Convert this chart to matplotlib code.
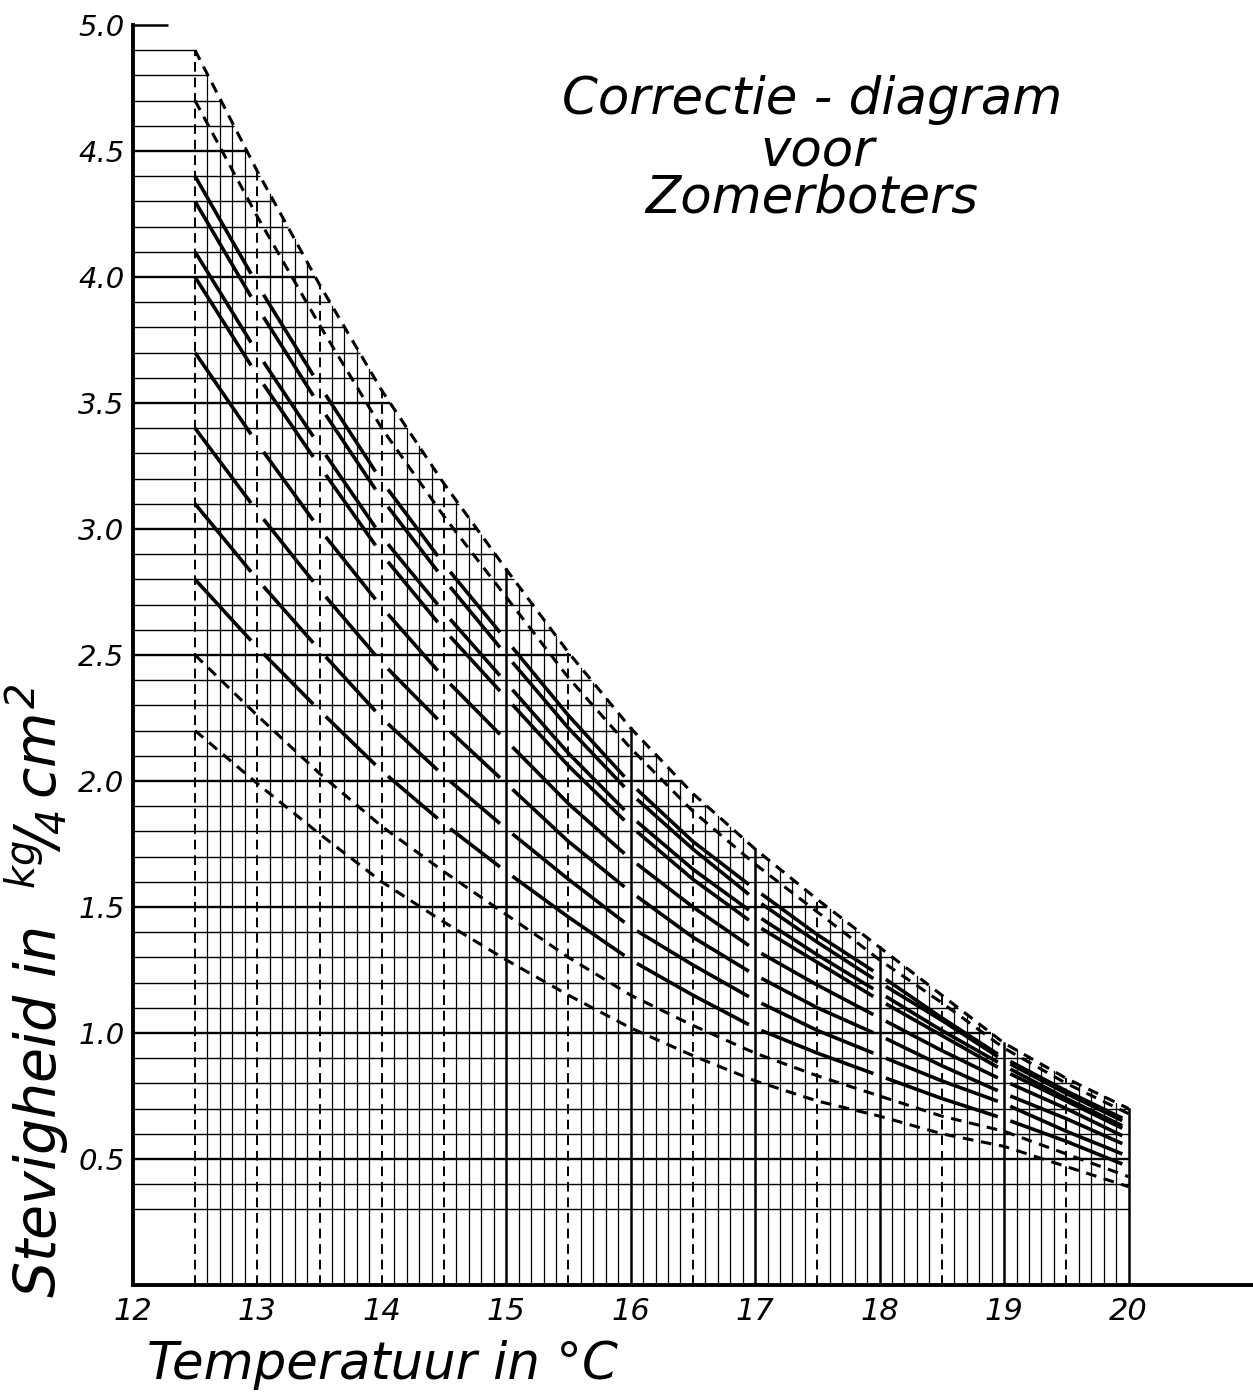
import numpy as np
import matplotlib
matplotlib.use("Agg")
import matplotlib.pyplot as plt

# temperatures where the curves were read (deg C)
temps = [12.5, 13.0, 13.5, 14.0, 14.5, 15.0, 15.5, 16.0, 16.5, 17.0,
         17.5, 18.0, 18.5, 19.0, 19.5, 20.0]

# firmness curves (kg / 1/4 cm2), top to bottom
c49 = [4.90, 4.42, 3.97, 3.55, 3.18, 2.84, 2.51, 2.21, 1.95, 1.73, 1.53, 1.34, 1.15, 0.96, 0.82, 0.70]
c47 = [4.70, 4.24, 3.81, 3.40, 3.05, 2.73, 2.41, 2.13, 1.88, 1.67, 1.48, 1.29, 1.12, 0.94, 0.80, 0.68]
c44 = [4.40, 3.97, 3.57, 3.19, 2.86, 2.56, 2.26, 1.99, 1.76, 1.57, 1.39, 1.23, 1.06, 0.90, 0.77, 0.65]
c43 = [4.30, 3.88, 3.49, 3.12, 2.80, 2.50, 2.21, 1.95, 1.73, 1.53, 1.36, 1.20, 1.05, 0.89, 0.76, 0.64]
c41 = [4.10, 3.70, 3.33, 2.97, 2.67, 2.39, 2.11, 1.86, 1.65, 1.47, 1.31, 1.16, 1.01, 0.87, 0.74, 0.62]
c40 = [4.00, 3.61, 3.25, 2.90, 2.60, 2.33, 2.06, 1.82, 1.61, 1.43, 1.28, 1.13, 0.99, 0.85, 0.73, 0.61]
c37 = [3.70, 3.34, 3.00, 2.69, 2.41, 2.16, 1.91, 1.69, 1.50, 1.33, 1.19, 1.06, 0.93, 0.81, 0.70, 0.58]
c34 = [3.40, 3.07, 2.76, 2.47, 2.22, 1.99, 1.76, 1.56, 1.38, 1.23, 1.10, 0.99, 0.87, 0.76, 0.66, 0.55]
c31 = [3.10, 2.80, 2.52, 2.25, 2.02, 1.81, 1.61, 1.42, 1.27, 1.13, 1.01, 0.91, 0.81, 0.72, 0.61, 0.51]
c28 = [2.80, 2.53, 2.28, 2.04, 1.83, 1.64, 1.46, 1.29, 1.15, 1.02, 0.92, 0.83, 0.74, 0.66, 0.57, 0.47]
c25 = [2.50, 2.26, 2.03, 1.82, 1.64, 1.47, 1.30, 1.15, 1.03, 0.92, 0.83, 0.75, 0.67, 0.61, 0.52, 0.43]
c22 = [2.20, 1.99, 1.79, 1.60, 1.44, 1.29, 1.15, 1.02, 0.91, 0.81, 0.73, 0.67, 0.60, 0.55, 0.47, 0.39]

dashed_curves = [c49, c47, c25, c22]
solid_curves = [c44, c43, c41, c40, c37, c34, c31, c28]

# the solid curves are drawn piecewise between these temperatures
breaks = [12.5, 13.0, 13.5, 14.0, 14.5, 15.0, 16.0, 17.0, 18.0, 19.0, 20.0]

ytick_vals = [0.5, 1.0, 1.5, 2.0, 2.5, 3.0, 3.5, 4.0, 4.5, 5.0]
ytick_labels = ["0.5", "1.0", "1.5", "2.0", "2.5", "3.0", "3.5", "4.0", "4.5", "5.0"]
xtick_vals = [12, 13, 14, 15, 16, 17, 18, 19, 20]
xtick_labels = ["12", "13", "14", "15", "16", "17", "18", "19", "20"]

title_lines = ["Correctie - diagram", "voor", "Zomerboters"]
xlabel = "Temperatuur in °C"
ylabel = r"Stevigheid in  $^{kg}\!/_{\!4}\,cm^{2}$"

plt.rcParams["font.family"] = ["DejaVu Sans"]
plt.rcParams["mathtext.fontset"] = "custom"
plt.rcParams["mathtext.rm"] = "DejaVu Sans:italic"
plt.rcParams["mathtext.it"] = "DejaVu Sans:italic"
tick_family = ["Liberation Sans Narrow", "DejaVu Sans"]

fig = plt.figure(figsize=(12.53, 13.99), dpi=100)
ax = fig.add_axes([0.106, 0.0815, 0.894, 0.9006])
ax.set_xlim(12, 21)
ax.set_ylim(0, 5)

t = np.array(temps)
env = np.array(c49)

# horizontal grid: from the y axis up to the top curve
for k in range(3, 50):
    y = k / 10
    if y <= env[-1]:
        x_end = 20.0
    else:
        x_end = np.interp(y, env[::-1], t[::-1])
    lw = 1.7 if k % 5 == 0 else 1.0
    ax.plot([12, x_end], [y, y], color="black", lw=lw, solid_capstyle="butt")

# vertical grid: every 0.1 deg from 12.5 to 20, up to the top curve
for k in range(125, 201):
    x = k / 10
    top = np.interp(x, t, env)
    if k % 5 == 0 and (k % 10 == 5 or k <= 140):
        ax.plot([x, x], [0, top], color="black", lw=1.4, ls=(0, (5, 3)))
    elif k % 10 == 0:
        ax.plot([x, x], [0, top], color="black", lw=1.8)
    else:
        ax.plot([x, x], [0, top], color="black", lw=0.9)

# dashed curves, continuous
for c in dashed_curves:
    ax.plot(t, c, color="black", lw=2.2, ls=(0, (3.5, 2.5)))

# solid curves, drawn in pieces with small gaps at the break lines
gap = 0.05
for c in solid_curves:
    cy = np.array(c)
    for a, b in zip(breaks[:-1], breaks[1:]):
        a0 = a + (gap if a > 12.5 else 0)
        b0 = b - gap
        xs = [a0] + [v for v in temps if a0 < v < b0] + [b0]
        ys = np.interp(xs, t, cy)
        ax.plot(xs, ys, color="black", lw=2.6, solid_capstyle="butt")

# short top frame mark at 5.0
ax.hlines(5.0, 12, 12.28, color="black", lw=1.8, clip_on=False)

for s in ["top", "right"]:
    ax.spines[s].set_visible(False)
ax.spines["left"].set_linewidth(2.8)
ax.spines["bottom"].set_linewidth(2.8)
ax.spines["left"].set_bounds(0, 5)

ax.set_yticks(ytick_vals)
ax.set_yticklabels(ytick_labels, fontsize=21, fontstyle="italic", family=tick_family)
ax.set_xticks(xtick_vals)
ax.set_xticklabels(xtick_labels, fontsize=22, fontstyle="italic", family=tick_family)
ax.tick_params(axis="both", length=0)
ax.tick_params(axis="y", pad=6)
ax.tick_params(axis="x", pad=9)

fig.text(0.648, 0.9285, title_lines[0], fontsize=37, fontstyle="italic",
         ha="center", va="center")
fig.text(0.652, 0.891, title_lines[1], fontsize=37, fontstyle="italic",
         ha="center", va="center")
fig.text(0.648, 0.858, title_lines[2], fontsize=37, fontstyle="italic",
         ha="center", va="center")

fig.text(0.305, 0.024, xlabel, fontsize=37, fontstyle="italic",
         ha="center", va="center")
fig.text(0.030, 0.292, ylabel, fontsize=41, fontstyle="italic",
         rotation=90, ha="center", va="center")

fig.savefig("out.png", dpi=100)
